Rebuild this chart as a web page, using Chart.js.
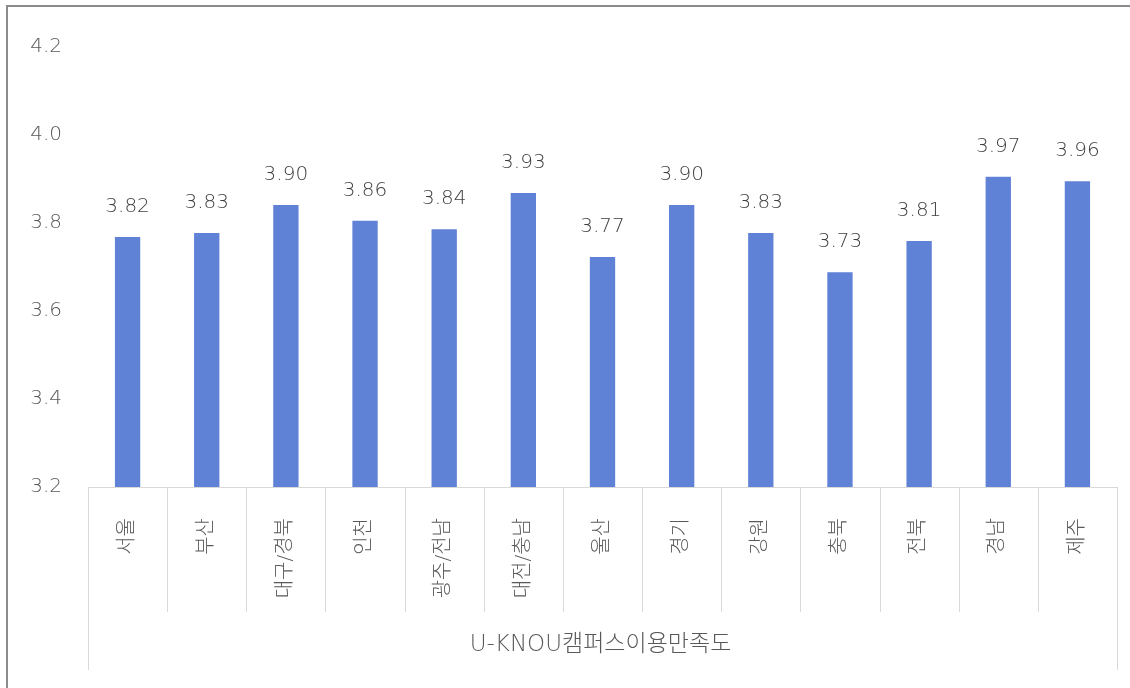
<!DOCTYPE html>
<html>
<head>
<meta charset="utf-8">
<script src="https://cdn.jsdelivr.net/npm/chart.js@4"></script>
<style>
  html, body { margin: 0; padding: 0; background: #fff; }
  #wrap { width: 1130px; height: 688px; }
</style>
</head>
<body>
<div id="wrap"><canvas id="myChart" width="1130" height="688"></canvas></div>
<script>
const categories = ['서울', '부산', '대구/경북', '인천', '광주/전남', '대전/충남', '울산', '경기', '강원', '충북', '전북', '경남', '제주'];
// bar heights as drawn in the picture
const barValues = [3.768, 3.777, 3.841, 3.805, 3.786, 3.868, 3.723, 3.841, 3.777, 3.688, 3.759, 3.905, 3.895];
// value labels as printed above the bars
const labelValues = ['3.82', '3.83', '3.90', '3.86', '3.84', '3.93', '3.77', '3.90', '3.83', '3.73', '3.81', '3.97', '3.96'];
const groupTitle = 'U-KNOU캠퍼스이용만족도';
const yMin = 3.2, yMax = 4.2, yStep = 0.2;

const FONT = '"DejaVu Sans", "Noto Sans CJK KR", sans-serif';
const ctx = document.getElementById('myChart');

Chart.defaults.font.family = FONT;
Chart.defaults.font.size = 20;
Chart.defaults.font.weight = 200;
Chart.defaults.color = '#595959';

// value labels, category separators, group title and frame
const extras = {
    id: 'extras',
    afterDatasetsDraw(chart) {
        const c = chart.ctx;
        const meta = chart.getDatasetMeta(0);
        c.save();
        c.font = '200 20px ' + FONT;
        c.fillStyle = '#404040';
        c.textAlign = 'center';
        c.textBaseline = 'middle';
        meta.data.forEach((bar, i) => {
            c.fillText(labelValues[i], bar.x, bar.y - 30);
        });
        c.restore();
    },
    afterDraw(chart) {
        const c = chart.ctx;
        const xs = chart.scales.x;
        const half = (xs.getPixelForValue(1) - xs.getPixelForValue(0)) / 2;
        const base = chart.chartArea.bottom;
        c.save();
        c.strokeStyle = '#d9d9d9';
        c.lineWidth = 1;
        for (let i = 0; i <= categories.length; i++) {
            const x = Math.round(xs.getPixelForValue(i) - half) + 0.5;
            const outer = i === 0 || i === categories.length;
            c.beginPath();
            c.moveTo(x, base);
            c.lineTo(x, outer ? 670 : 612);
            c.stroke();
        }
        c.font = '200 23px ' + FONT;
        c.fillStyle = '#595959';
        c.textAlign = 'center';
        c.textBaseline = 'middle';
        c.fillText(groupTitle, (chart.chartArea.left + chart.chartArea.right) / 2 - 2, 645);
        c.strokeStyle = '#8c8c8c';
        c.lineWidth = 2;
        c.strokeRect(7, 6, 1140, 700);
        c.restore();
    }
};

const chart = new Chart(ctx, {
    type: 'bar',
    data: {
        labels: categories,
        datasets: [{
            data: barValues,
            backgroundColor: '#6082d6',
            barPercentage: 0.32,
            categoryPercentage: 1.0
        }]
    },
    options: {
        responsive: false,
        animation: false,
        layout: {
            padding: { top: 47, right: 13, bottom: 0, left: 0 }
        },
        plugins: {
            legend: { display: false },
            tooltip: { enabled: false }
        },
        scales: {
            x: {
                grid: { display: false, drawTicks: false },
                border: { display: true, color: '#d9d9d9', width: 1 },
                ticks: { minRotation: 90, maxRotation: 90, padding: 31, autoSkip: false },
                afterFit(scale) {
                    scale.height = 201;
                    scale.paddingLeft = 0;
                    scale.paddingRight = 0;
                }
            },
            y: {
                min: yMin,
                max: yMax,
                grid: { display: false, drawTicks: false },
                border: { display: false },
                ticks: {
                    stepSize: yStep,
                    padding: 26,
                    callback: v => v.toFixed(1)
                },
                afterFit(scale) { scale.width = 88; }
            }
        }
    },
    plugins: [extras]
});
</script>
</body>
</html>
